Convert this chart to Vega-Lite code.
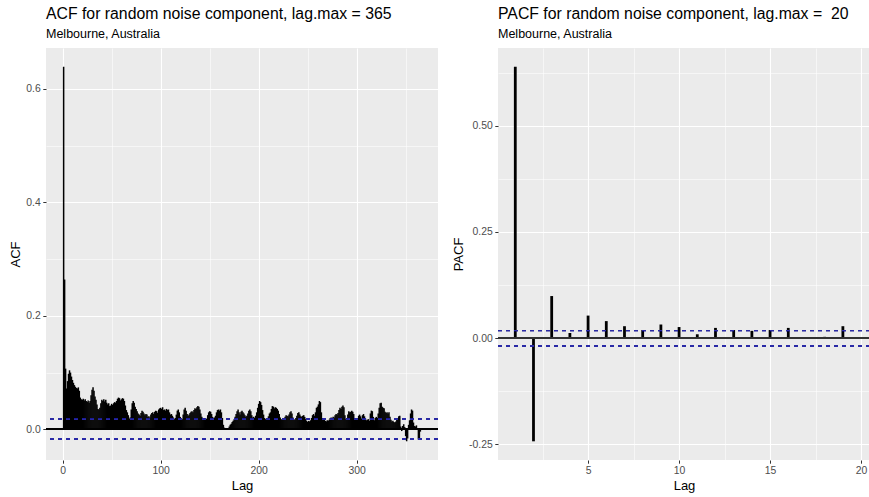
{
  "$schema": "https://vega.github.io/schema/vega-lite/v6.json",
  "background": "white",
  "padding": {"left": 9, "top": 5, "right": 0, "bottom": 0},
  "config": {
    "font": "Liberation Sans",
    "view": {"fill": "#EBEBEB", "stroke": null},
    "axis": {
      "domain": false,
      "gridColor": "white",
      "tickColor": "#333333",
      "tickSize": 3.2,
      "labelColor": "#4D4D4D",
      "labelFontSize": 10.4,
      "labelPadding": 2.6,
      "titleFontSize": 13,
      "titleFontWeight": "normal",
      "titleColor": "black",
      "titlePadding": 3.2
    },
    "title": {
      "anchor": "start",
      "frame": "group",
      "fontSize": 15.8,
      "fontWeight": "normal",
      "color": "black",
      "subtitleFontSize": 12.5,
      "subtitleColor": "black",
      "subtitlePadding": 5,
      "offset": 7
    },
    "concat": {"spacing": 13}
  },
  "datasets": {
    "acf": [
      {"lag":1,"acf":0.639},{"lag":2,"acf":0.264},{"lag":3,"acf":0.107},{"lag":4,"acf":0.072},{"lag":5,"acf":0.085},
      {"lag":6,"acf":0.098},{"lag":7,"acf":0.104},{"lag":8,"acf":0.1},{"lag":9,"acf":0.093},{"lag":10,"acf":0.087},
      {"lag":11,"acf":0.082},{"lag":12,"acf":0.078},{"lag":13,"acf":0.075},{"lag":14,"acf":0.073},{"lag":15,"acf":0.072},
      {"lag":16,"acf":0.074},{"lag":17,"acf":0.068},{"lag":18,"acf":0.056},{"lag":19,"acf":0.053},{"lag":20,"acf":0.052},
      {"lag":21,"acf":0.054},{"lag":22,"acf":0.051},{"lag":23,"acf":0.053},{"lag":24,"acf":0.05},{"lag":25,"acf":0.048},
      {"lag":26,"acf":0.051},{"lag":27,"acf":0.047},{"lag":28,"acf":0.05},{"lag":29,"acf":0.06},{"lag":30,"acf":0.07},
      {"lag":31,"acf":0.074},{"lag":32,"acf":0.068},{"lag":33,"acf":0.058},{"lag":34,"acf":0.052},{"lag":35,"acf":0.044},
      {"lag":36,"acf":0.036},{"lag":37,"acf":0.035},{"lag":38,"acf":0.038},{"lag":39,"acf":0.046},{"lag":40,"acf":0.052},
      {"lag":41,"acf":0.05},{"lag":42,"acf":0.053},{"lag":43,"acf":0.049},{"lag":44,"acf":0.052},{"lag":45,"acf":0.047},
      {"lag":46,"acf":0.044},{"lag":47,"acf":0.046},{"lag":48,"acf":0.041},{"lag":49,"acf":0.042},{"lag":50,"acf":0.045},
      {"lag":51,"acf":0.043},{"lag":52,"acf":0.046},{"lag":53,"acf":0.048},{"lag":54,"acf":0.047},{"lag":55,"acf":0.05},
      {"lag":56,"acf":0.054},{"lag":57,"acf":0.056},{"lag":58,"acf":0.055},{"lag":59,"acf":0.051},{"lag":60,"acf":0.053},
      {"lag":61,"acf":0.055},{"lag":62,"acf":0.054},{"lag":63,"acf":0.05},{"lag":64,"acf":0.042},{"lag":65,"acf":0.034},
      {"lag":66,"acf":0.03},{"lag":67,"acf":0.025},{"lag":68,"acf":0.019},{"lag":69,"acf":0.021},{"lag":70,"acf":0.035},
      {"lag":71,"acf":0.046},{"lag":72,"acf":0.05},{"lag":73,"acf":0.047},{"lag":74,"acf":0.04},{"lag":75,"acf":0.036},
      {"lag":76,"acf":0.032},{"lag":77,"acf":0.028},{"lag":78,"acf":0.026},{"lag":79,"acf":0.024},{"lag":80,"acf":0.029},
      {"lag":81,"acf":0.033},{"lag":82,"acf":0.031},{"lag":83,"acf":0.028},{"lag":84,"acf":0.025},{"lag":85,"acf":0.027},
      {"lag":86,"acf":0.026},{"lag":87,"acf":0.022},{"lag":88,"acf":0.023},{"lag":89,"acf":0.021},{"lag":90,"acf":0.026},
      {"lag":91,"acf":0.029},{"lag":92,"acf":0.03},{"lag":93,"acf":0.027},{"lag":94,"acf":0.031},{"lag":95,"acf":0.033},
      {"lag":96,"acf":0.032},{"lag":97,"acf":0.029},{"lag":98,"acf":0.035},{"lag":99,"acf":0.037},{"lag":100,"acf":0.038},
      {"lag":101,"acf":0.036},{"lag":102,"acf":0.039},{"lag":103,"acf":0.034},{"lag":104,"acf":0.035},{"lag":105,"acf":0.033},
      {"lag":106,"acf":0.036},{"lag":107,"acf":0.034},{"lag":108,"acf":0.035},{"lag":109,"acf":0.03},{"lag":110,"acf":0.026},
      {"lag":111,"acf":0.027},{"lag":112,"acf":0.024},{"lag":113,"acf":0.021},{"lag":114,"acf":0.018},{"lag":115,"acf":0.02},
      {"lag":116,"acf":0.026},{"lag":117,"acf":0.033},{"lag":118,"acf":0.035},{"lag":119,"acf":0.03},{"lag":120,"acf":0.022},
      {"lag":121,"acf":0.019},{"lag":122,"acf":0.018},{"lag":123,"acf":0.026},{"lag":124,"acf":0.035},{"lag":125,"acf":0.038},
      {"lag":126,"acf":0.033},{"lag":127,"acf":0.027},{"lag":128,"acf":0.024},{"lag":129,"acf":0.026},{"lag":130,"acf":0.029},
      {"lag":131,"acf":0.031},{"lag":132,"acf":0.032},{"lag":133,"acf":0.03},{"lag":134,"acf":0.034},{"lag":135,"acf":0.037},
      {"lag":136,"acf":0.036},{"lag":137,"acf":0.039},{"lag":138,"acf":0.041},{"lag":139,"acf":0.04},{"lag":140,"acf":0.035},
      {"lag":141,"acf":0.028},{"lag":142,"acf":0.022},{"lag":143,"acf":0.02},{"lag":144,"acf":0.019},{"lag":145,"acf":0.02},
      {"lag":146,"acf":0.018},{"lag":147,"acf":0.019},{"lag":148,"acf":0.025},{"lag":149,"acf":0.03},{"lag":150,"acf":0.032},
      {"lag":151,"acf":0.031},{"lag":152,"acf":0.027},{"lag":153,"acf":0.022},{"lag":154,"acf":0.02},{"lag":155,"acf":0.021},
      {"lag":156,"acf":0.024},{"lag":157,"acf":0.03},{"lag":158,"acf":0.034},{"lag":159,"acf":0.035},{"lag":160,"acf":0.033},
      {"lag":161,"acf":0.035},{"lag":162,"acf":0.03},{"lag":163,"acf":0.02},{"lag":164,"acf":0.008},{"lag":165,"acf":0.003},
      {"lag":166,"acf":0.001},{"lag":167,"acf":0.0},{"lag":168,"acf":0.001},{"lag":169,"acf":0.002},{"lag":170,"acf":0.005},
      {"lag":171,"acf":0.008},{"lag":172,"acf":0.01},{"lag":173,"acf":0.013},{"lag":174,"acf":0.015},{"lag":175,"acf":0.018},
      {"lag":176,"acf":0.022},{"lag":177,"acf":0.027},{"lag":178,"acf":0.032},{"lag":179,"acf":0.035},{"lag":180,"acf":0.03},
      {"lag":181,"acf":0.026},{"lag":182,"acf":0.031},{"lag":183,"acf":0.033},{"lag":184,"acf":0.03},{"lag":185,"acf":0.028},
      {"lag":186,"acf":0.025},{"lag":187,"acf":0.022},{"lag":188,"acf":0.024},{"lag":189,"acf":0.028},{"lag":190,"acf":0.033},
      {"lag":191,"acf":0.035},{"lag":192,"acf":0.032},{"lag":193,"acf":0.025},{"lag":194,"acf":0.021},{"lag":195,"acf":0.022},
      {"lag":196,"acf":0.02},{"lag":197,"acf":0.024},{"lag":198,"acf":0.03},{"lag":199,"acf":0.038},{"lag":200,"acf":0.045},
      {"lag":201,"acf":0.05},{"lag":202,"acf":0.048},{"lag":203,"acf":0.043},{"lag":204,"acf":0.034},{"lag":205,"acf":0.026},
      {"lag":206,"acf":0.02},{"lag":207,"acf":0.018},{"lag":208,"acf":0.017},{"lag":209,"acf":0.019},{"lag":210,"acf":0.023},
      {"lag":211,"acf":0.028},{"lag":212,"acf":0.03},{"lag":213,"acf":0.036},{"lag":214,"acf":0.041},{"lag":215,"acf":0.04},
      {"lag":216,"acf":0.037},{"lag":217,"acf":0.039},{"lag":218,"acf":0.038},{"lag":219,"acf":0.036},{"lag":220,"acf":0.033},
      {"lag":221,"acf":0.027},{"lag":222,"acf":0.021},{"lag":223,"acf":0.018},{"lag":224,"acf":0.017},{"lag":225,"acf":0.019},
      {"lag":226,"acf":0.018},{"lag":227,"acf":0.022},{"lag":228,"acf":0.025},{"lag":229,"acf":0.024},{"lag":230,"acf":0.023},
      {"lag":231,"acf":0.026},{"lag":232,"acf":0.03},{"lag":233,"acf":0.032},{"lag":234,"acf":0.028},{"lag":235,"acf":0.021},
      {"lag":236,"acf":0.018},{"lag":237,"acf":0.017},{"lag":238,"acf":0.02},{"lag":239,"acf":0.024},{"lag":240,"acf":0.029},
      {"lag":241,"acf":0.03},{"lag":242,"acf":0.026},{"lag":243,"acf":0.023},{"lag":244,"acf":0.022},{"lag":245,"acf":0.024},
      {"lag":246,"acf":0.025},{"lag":247,"acf":0.022},{"lag":248,"acf":0.018},{"lag":249,"acf":0.015},{"lag":250,"acf":0.013},
      {"lag":251,"acf":0.015},{"lag":252,"acf":0.014},{"lag":253,"acf":0.016},{"lag":254,"acf":0.02},{"lag":255,"acf":0.025},
      {"lag":256,"acf":0.027},{"lag":257,"acf":0.024},{"lag":258,"acf":0.03},{"lag":259,"acf":0.038},{"lag":260,"acf":0.04},
      {"lag":261,"acf":0.044},{"lag":262,"acf":0.05},{"lag":263,"acf":0.048},{"lag":264,"acf":0.03},{"lag":265,"acf":0.02},
      {"lag":266,"acf":0.017},{"lag":267,"acf":0.018},{"lag":268,"acf":0.015},{"lag":269,"acf":0.014},{"lag":270,"acf":0.016},
      {"lag":271,"acf":0.015},{"lag":272,"acf":0.017},{"lag":273,"acf":0.02},{"lag":274,"acf":0.021},{"lag":275,"acf":0.02},
      {"lag":276,"acf":0.022},{"lag":277,"acf":0.021},{"lag":278,"acf":0.025},{"lag":279,"acf":0.027},{"lag":280,"acf":0.026},
      {"lag":281,"acf":0.029},{"lag":282,"acf":0.034},{"lag":283,"acf":0.038},{"lag":284,"acf":0.036},{"lag":285,"acf":0.04},
      {"lag":286,"acf":0.042},{"lag":287,"acf":0.039},{"lag":288,"acf":0.025},{"lag":289,"acf":0.018},{"lag":290,"acf":0.02},
      {"lag":291,"acf":0.026},{"lag":292,"acf":0.032},{"lag":293,"acf":0.03},{"lag":294,"acf":0.031},{"lag":295,"acf":0.033},
      {"lag":296,"acf":0.031},{"lag":297,"acf":0.027},{"lag":298,"acf":0.02},{"lag":299,"acf":0.017},{"lag":300,"acf":0.018},
      {"lag":301,"acf":0.019},{"lag":302,"acf":0.024},{"lag":303,"acf":0.026},{"lag":304,"acf":0.023},{"lag":305,"acf":0.019},
      {"lag":306,"acf":0.025},{"lag":307,"acf":0.027},{"lag":308,"acf":0.023},{"lag":309,"acf":0.019},{"lag":310,"acf":0.016},
      {"lag":311,"acf":0.017},{"lag":312,"acf":0.018},{"lag":313,"acf":0.015},{"lag":314,"acf":0.028},{"lag":315,"acf":0.033},
      {"lag":316,"acf":0.032},{"lag":317,"acf":0.022},{"lag":318,"acf":0.016},{"lag":319,"acf":0.02},{"lag":320,"acf":0.022},
      {"lag":321,"acf":0.02},{"lag":322,"acf":0.028},{"lag":323,"acf":0.038},{"lag":324,"acf":0.046},{"lag":325,"acf":0.047},
      {"lag":326,"acf":0.04},{"lag":327,"acf":0.038},{"lag":328,"acf":0.037},{"lag":329,"acf":0.031},{"lag":330,"acf":0.029},
      {"lag":331,"acf":0.03},{"lag":332,"acf":0.028},{"lag":333,"acf":0.03},{"lag":334,"acf":0.022},{"lag":335,"acf":0.017},
      {"lag":336,"acf":0.014},{"lag":337,"acf":0.015},{"lag":338,"acf":0.013},{"lag":339,"acf":0.012},{"lag":340,"acf":0.014},
      {"lag":341,"acf":0.017},{"lag":342,"acf":0.019},{"lag":343,"acf":0.023},{"lag":344,"acf":0.024},{"lag":345,"acf":0.005},
      {"lag":346,"acf":-0.003},{"lag":347,"acf":0.006},{"lag":348,"acf":0.009},{"lag":349,"acf":0.004},{"lag":350,"acf":-0.012},
      {"lag":351,"acf":-0.021},{"lag":352,"acf":-0.016},{"lag":353,"acf":0.008},{"lag":354,"acf":0.016},{"lag":355,"acf":0.028},
      {"lag":356,"acf":0.035},{"lag":357,"acf":0.033},{"lag":358,"acf":0.012},{"lag":359,"acf":0.006},{"lag":360,"acf":0.005},
      {"lag":361,"acf":0.007},{"lag":362,"acf":0.002},{"lag":363,"acf":-0.018},{"lag":364,"acf":-0.017},{"lag":365,"acf":-0.004}
    ],
    "pacf": [
      {"lag":1,"pacf":0.639},{"lag":2,"pacf":-0.243},{"lag":3,"pacf":0.099},{"lag":4,"pacf":0.012},{"lag":5,"pacf":0.053},
      {"lag":6,"pacf":0.04},{"lag":7,"pacf":0.028},{"lag":8,"pacf":0.019},{"lag":9,"pacf":0.032},{"lag":10,"pacf":0.026},
      {"lag":11,"pacf":0.009},{"lag":12,"pacf":0.024},{"lag":13,"pacf":0.019},{"lag":14,"pacf":0.017},{"lag":15,"pacf":0.019},
      {"lag":16,"pacf":0.024},{"lag":17,"pacf":-0.0005},{"lag":18,"pacf":0.003},{"lag":19,"pacf":0.028},{"lag":20,"pacf":0.0005}
    ]
  },
  "hconcat": [
    {
      "title": {"text": "ACF for random noise component, lag.max = 365", "subtitle": "Melbourne, Australia"},
      "width": 392,
      "height": 412,
      "data": {"name": "acf"},
      "layer": [
        {
          "mark": {"type": "rule", "color": "black", "strokeWidth": 1.5},
          "encoding": {
            "x": {
              "field": "lag", "type": "quantitative", "title": "Lag",
              "scale": {"domain": [-17, 383], "nice": false, "zero": false},
              "axis": {
                "values": [0, 50, 100, 150, 200, 250, 300, 350],
                "format": "d",
                "labelExpr": "datum.value % 100 == 0 ? datum.label : ''",
                "tickOpacity": {"condition": {"test": "datum.value % 100 != 0", "value": 0}, "value": 1},
                "gridWidth": {"condition": {"test": "datum.value % 100 != 0", "value": 0.55}, "value": 1.1}
              }
            },
            "y": {
              "field": "acf", "type": "quantitative", "title": "ACF",
              "scale": {"domain": [-0.054, 0.672], "nice": false, "zero": false},
              "axis": {
                "values": [0, 0.1, 0.2, 0.3, 0.4, 0.5, 0.6],
                "labelExpr": "round(datum.value * 10) % 2 == 0 ? format(datum.value, '.1f') : ''",
                "tickOpacity": {"condition": {"test": "round(datum.value * 10) % 2 != 0", "value": 0}, "value": 1},
                "gridWidth": {"condition": {"test": "round(datum.value * 10) % 2 != 0", "value": 0.55}, "value": 1.1}
              }
            },
            "y2": {"datum": 0}
          }
        },
        {
          "mark": {"type": "rule", "color": "black", "strokeWidth": 1},
          "encoding": {"y": {"datum": 0}}
        },
        {
          "mark": {"type": "rule", "color": "#2a2aa6", "strokeWidth": 1, "strokeDash": [4, 4]},
          "encoding": {"y": {"datum": 0.0175}}
        },
        {
          "mark": {"type": "rule", "color": "#2a2aa6", "strokeWidth": 1, "strokeDash": [4, 4]},
          "encoding": {"y": {"datum": -0.0175}}
        }
      ]
    },
    {
      "title": {"text": "PACF for random noise component, lag.max =\u00a0 20", "subtitle": "Melbourne, Australia"},
      "width": 372,
      "height": 412,
      "data": {"name": "pacf"},
      "layer": [
        {
          "mark": {"type": "rule", "color": "black", "strokeWidth": 2.8},
          "encoding": {
            "x": {
              "field": "lag", "type": "quantitative", "title": "Lag",
              "scale": {"domain": [0.05, 20.49], "nice": false, "zero": false},
              "axis": {
                "values": [2.5, 5, 7.5, 10, 12.5, 15, 17.5, 20],
                "labelExpr": "datum.value % 5 == 0 ? format(datum.value, 'd') : ''",
                "tickOpacity": {"condition": {"test": "datum.value % 5 != 0", "value": 0}, "value": 1},
                "gridWidth": {"condition": {"test": "datum.value % 5 != 0", "value": 0.55}, "value": 1.1}
              }
            },
            "y": {
              "field": "pacf", "type": "quantitative", "title": "PACF",
              "scale": {"domain": [-0.287, 0.683], "nice": false, "zero": false},
              "axis": {
                "values": [-0.25, -0.125, 0, 0.125, 0.25, 0.375, 0.5, 0.625],
                "labelExpr": "datum.value % 0.25 == 0 ? replace(format(datum.value, '.2f'), '\u2212', '-') : ''",
                "tickOpacity": {"condition": {"test": "datum.value % 0.25 != 0", "value": 0}, "value": 1},
                "gridWidth": {"condition": {"test": "datum.value % 0.25 != 0", "value": 0.55}, "value": 1.1}
              }
            },
            "y2": {"datum": 0}
          }
        },
        {
          "mark": {"type": "rule", "color": "#333333", "strokeWidth": 1},
          "encoding": {"y": {"datum": 0}}
        },
        {
          "mark": {"type": "rule", "color": "#2a2aa6", "strokeWidth": 1, "strokeDash": [4, 4]},
          "encoding": {"y": {"datum": 0.0178}}
        },
        {
          "mark": {"type": "rule", "color": "#2a2aa6", "strokeWidth": 1, "strokeDash": [4, 4]},
          "encoding": {"y": {"datum": -0.0178}}
        }
      ]
    }
  ]
}
